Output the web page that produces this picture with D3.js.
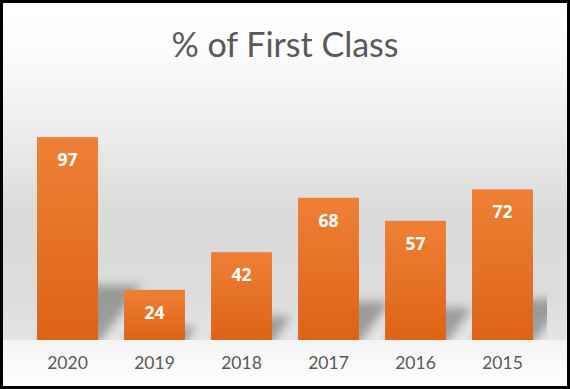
<!DOCTYPE html>
<html>
<head>
<meta charset="utf-8">
<script src="https://cdn.jsdelivr.net/npm/d3@7"></script>
<style>
  body { margin: 0; padding: 0; background: #fff; }
  svg { display: block; }
</style>
</head>
<body>
<div id="chart"></div>
<script>
// chart data
const years = ["2020", "2019", "2018", "2017", "2016", "2015"];
const firstClass = [97, 24, 42, 68, 57, 72];
const yDomain = [0, 120];
const chartTitle = "% of First Class";

const width = 570, height = 389;
const plot = { left: 24, right: 546, top: 89, bottom: 340 };

const svg = d3.select("#chart")
  .append("svg")
  .attr("width", width)
  .attr("height", height);

const defs = svg.append("defs");

// background gradient (white top, grey middle, lighter floor below plot)
const bg = defs.append("linearGradient")
  .attr("id", "bgGrad")
  .attr("x1", 0).attr("y1", 0).attr("x2", 0).attr("y2", 1);
[[0, "#ffffff"], [0.1, "#fdfdfd"], [0.3, "#f0f0f0"], [0.55, "#dadada"],
 [0.76, "#dcdcdc"], [0.873, "#e4e4e4"], [0.875, "#f4f4f4"], [1, "#ffffff"]]
  .forEach(s => bg.append("stop").attr("offset", s[0]).attr("stop-color", s[1]));

// bar gradient
const barGrad = defs.append("linearGradient")
  .attr("id", "barGrad")
  .attr("x1", 0).attr("y1", 0).attr("x2", 0).attr("y2", 1);
barGrad.append("stop").attr("offset", 0).attr("stop-color", "#ee8036");
barGrad.append("stop").attr("offset", 1).attr("stop-color", "#dd6316");

// blur for shadows
defs.append("filter")
  .attr("id", "blur")
  .attr("x", "-50%").attr("y", "-50%").attr("width", "200%").attr("height", "200%")
  .append("feGaussianBlur").attr("stdDeviation", 5);

defs.append("clipPath")
  .attr("id", "plotClip")
  .append("rect")
  .attr("x", plot.left).attr("y", plot.top)
  .attr("width", plot.right - plot.left + 1)
  .attr("height", plot.bottom - plot.top);

svg.append("rect")
  .attr("x", 0).attr("y", 0)
  .attr("width", width).attr("height", height)
  .attr("fill", "url(#bgGrad)");

// scales
const x = d3.scaleBand()
  .domain(years)
  .range([plot.left, plot.right])
  .paddingInner(0.3)
  .paddingOuter(0.15);

const y = d3.scaleLinear()
  .domain(yDomain)
  .range([plot.bottom, plot.top]);

// perspective shadows
const shadowG = svg.append("g").attr("clip-path", "url(#plotClip)");
shadowG.selectAll("path")
  .data(years)
  .enter()
  .append("path")
  .attr("d", (d, i) => {
    const x0 = x(d), x1 = x(d) + x.bandwidth();
    const h = (y(0) - y(firstClass[i])) * 0.27;
    const sk = h * 0.8;
    return `M${x0},${y(0) + 4}L${x1},${y(0) + 4}L${x1 + sk},${y(0) - h}L${x0 + sk},${y(0) - h}Z`;
  })
  .attr("fill", "#000")
  .attr("opacity", 0.3)
  .attr("filter", "url(#blur)");

// bars
svg.append("g")
  .selectAll("rect")
  .data(years)
  .enter()
  .append("rect")
  .attr("x", d => x(d))
  .attr("y", (d, i) => y(firstClass[i]))
  .attr("width", x.bandwidth())
  .attr("height", (d, i) => y(0) - y(firstClass[i]))
  .attr("fill", "url(#barGrad)");

// value labels
svg.append("g")
  .selectAll("text")
  .data(years)
  .enter()
  .append("text")
  .attr("x", d => x(d) + x.bandwidth() / 2)
  .attr("y", (d, i) => y(firstClass[i]) + 29)
  .attr("text-anchor", "middle")
  .attr("font-family", "'Open Sans', Lato, sans-serif")
  .attr("font-weight", "bold")
  .attr("font-size", "17.5px")
  .attr("fill", "#ffffff")
  .text((d, i) => firstClass[i]);

// x axis
const xAxis = svg.append("g")
  .attr("transform", `translate(0,${plot.bottom})`)
  .call(d3.axisBottom(x).tickSize(0).tickPadding(17));
xAxis.select(".domain").remove();
xAxis.selectAll("text")
  .attr("font-family", "Lato, 'Open Sans', sans-serif")
  .attr("font-size", "17.5px")
  .attr("fill", "#595959");

// title
svg.append("text")
  .attr("x", width / 2)
  .attr("y", 57)
  .attr("text-anchor", "middle")
  .attr("font-family", "Lato, 'Open Sans', sans-serif")
  .attr("font-size", "34px")
  .attr("fill", "#595959")
  .text(chartTitle);

// border
svg.append("rect")
  .attr("x", 1.5).attr("y", 1.5)
  .attr("width", width - 3).attr("height", height - 3)
  .attr("fill", "none")
  .attr("stroke", "#000")
  .attr("stroke-width", 3);
</script>
</body>
</html>
